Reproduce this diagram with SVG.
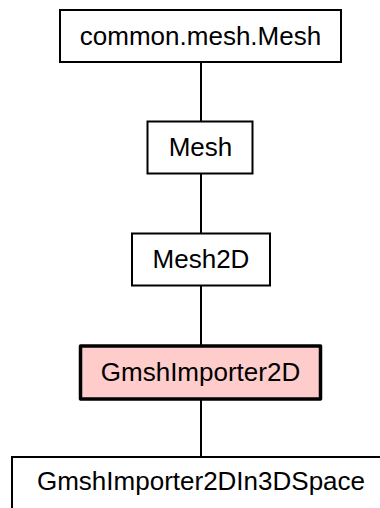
<svg xmlns="http://www.w3.org/2000/svg" width="380" height="508" viewBox="0 0 380 508">
<style>
.box{fill:#ffffff;stroke:#000000;stroke-width:2}
.focus{fill:#ffcccc;stroke:#000000;stroke-width:3.5;stroke-linejoin:round}
.lbl{font-family:"Liberation Sans",Arial,sans-serif;font-size:26px;fill:#000000;text-anchor:middle}
.edge{stroke:#000000;stroke-width:2;fill:none}
</style>
<rect width="380" height="508" fill="#ffffff"/>
<g id="connectors">
<line class="edge" x1="201" y1="62" x2="201" y2="121"/>
<line class="edge" x1="201" y1="174" x2="201" y2="233"/>
<line class="edge" x1="201" y1="286" x2="201" y2="345"/>
<line class="edge" x1="201" y1="400" x2="201" y2="457"/>
</g>
<g id="node-common-mesh-Mesh">
<rect class="box" x="60" y="10" width="281" height="52"/>
<text class="lbl" x="200.5" y="45">common.mesh.Mesh</text>
</g>
<g id="node-Mesh">
<rect class="box" x="147.5" y="121.5" width="105" height="52"/>
<text class="lbl" x="200.5" y="156">Mesh</text>
</g>
<g id="node-Mesh2D">
<rect class="box" x="132" y="233.5" width="138" height="52"/>
<text class="lbl" x="201" y="268">Mesh2D</text>
</g>
<g id="node-GmshImporter2D">
<rect class="focus" x="80.5" y="346" width="240" height="53"/>
<text class="lbl" x="200.5" y="381">GmshImporter2D</text>
</g>
<g id="node-GmshImporter2DIn3DSpace">
<rect class="box" x="12" y="457" width="378" height="60"/>
<text class="lbl" x="201" y="490">GmshImporter2DIn3DSpace</text>
</g>
</svg>
